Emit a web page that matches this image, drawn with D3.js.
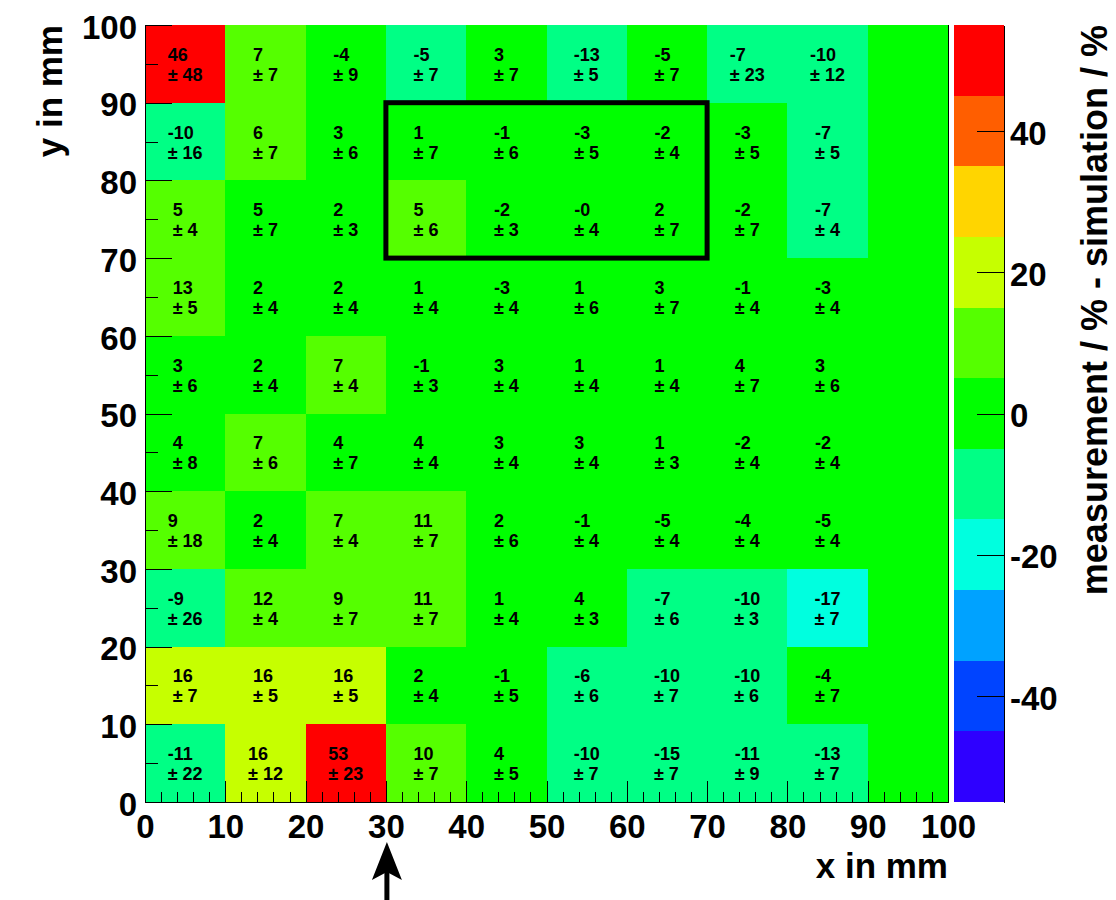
<!DOCTYPE html>
<html>
<head>
<meta charset="utf-8">
<script src="https://cdn.jsdelivr.net/npm/d3@7"></script>
<style>
body { margin: 0; background: #fff; }
text { font-family: "Liberation Sans", Arial, Helvetica, sans-serif; font-weight: bold; }
.axis path, .axis line { stroke: #000; stroke-width: 1px; shape-rendering: crispEdges; }
</style>
</head>
<body>
<svg id="chart" width="1116" height="900"></svg>
<script>
/*global d3*/

// lower bin edges in mm
var xBins = [0, 10, 20, 30, 40, 50, 60, 70, 80, 90];
var yBins = [90, 80, 70, 60, 50, 40, 30, 20, 10, 0];   // rows, top to bottom

// measurement / % - simulation / %, last column is empty
var diff = [
    [46.3, 7, -4, -5.3, 3, -13, -4.7, -7, -10, 0],
    [-10, 6, 3, 1, -1, -3, -2, -3, -7, 0],
    [5.2, 4.8, 2, 5.3, -2, -0.3, 2, -2, -7, 0],
    [13, 2, 2, 1, -3, 1, 3, -1, -3, 0],
    [3, 2, 7, -1, 3, 1, 1, 4, 3, 0],
    [4, 7, 4, 4, 3, 3, 1, -2, -2, 0],
    [9, 2, 7, 11, 2, -1, -4.8, -4, -4.6, 0],
    [-9, 12, 9, 11, 1, 4, -7, -10, -17, 0],
    [16, 16, 16, 2, -1, -6, -10, -10, -4, 0],
    [-11, 16, 53, 10, 4, -10, -14.6, -11, -13, 0]
];

var diffErr = [
    [48, 7, 9, 7, 7, 5, 7, 23, 12, null],
    [16, 7, 6, 7, 6, 5, 4, 5, 5, null],
    [4, 7, 3, 6, 3, 4, 7, 7, 4, null],
    [5, 4, 4, 4, 4, 6, 7, 4, 4, null],
    [6, 4, 4, 3, 4, 4, 4, 7, 6, null],
    [8, 6, 7, 4, 4, 4, 3, 4, 4, null],
    [18, 4, 4, 7, 6, 4, 4, 4, 4, null],
    [26, 4, 7, 7, 4, 3, 6, 3, 7, null],
    [7, 5, 5, 4, 5, 6, 7, 6, 7, null],
    [22, 12, 23, 7, 5, 7, 7, 9, 7, null]
];

// palette from low to high, 11 contours over [-55, 55]
var paletteColors = ["#2e00ff", "#0044ff", "#00a2ff", "#00ffdf", "#00ff85",
                     "#00ff00", "#55ff00", "#c6ff00", "#ffd500", "#ff5e00", "#ff0000"];
var zRange = [-55, 55];
var zTicks = [-40, -20, 0, 20, 40];
var axisTicks = [0, 10, 20, 30, 40, 50, 60, 70, 80, 90, 100];

// highlighted region and arrow position (mm)
var boxX = [30, 70];
var boxY = [70, 90];
var arrowX = 30;

var svg = d3.select("#chart");

var x = d3.scaleLinear().domain([0, 100]).range([145, 948]);
var y = d3.scaleLinear().domain([0, 100]).range([802, 25]);
var z = d3.scaleLinear().domain(zRange).range([802, 25]);
var color = d3.scaleQuantize().domain(zRange).range(paletteColors);
var binW = 10;

// ROOT style integer labels with a plain hyphen ("-0" kept)
function fmt(v) {
    var r = Math.round(v);
    return (v < 0 ? "-" : "") + Math.abs(r);
}

// cells
var cells = [];
yBins.forEach(function (yb, i) {
    xBins.forEach(function (xb, j) {
        cells.push({x: xb, y: yb, v: diff[i][j], e: diffErr[i][j]});
    });
});

svg.append("g").selectAll("rect")
    .data(cells)
    .join("rect")
    .attr("x", function (d) { return x(d.x); })
    .attr("y", function (d) { return y(d.y + binW); })
    .attr("width", function (d) { return x(d.x + binW) - x(d.x); })
    .attr("height", function (d) { return y(d.y) - y(d.y + binW); })
    .attr("fill", function (d) { return color(d.v); })
    .attr("shape-rendering", "crispEdges");

// cell labels: value and error, left aligned block centred in the cell
var labels = svg.append("g").selectAll("g")
    .data(cells.filter(function (d) { return d.e !== null; }))
    .join("g");

labels.append("text")
    .attr("x", 0).attr("y", -3)
    .attr("font-size", 18)
    .text(function (d) { return fmt(d.v); });

labels.append("text")
    .attr("x", 0).attr("y", 17)
    .attr("font-size", 18)
    .text(function (d) { return "\u00b1 " + d.e; });

labels.attr("transform", function (d) {
    var w = 0;
    d3.select(this).selectAll("text").each(function () {
        w = Math.max(w, this.getComputedTextLength());
    });
    var cx = x(d.x + binW / 2), cy = y(d.y + binW / 2);
    return "translate(" + (cx - w / 2) + "," + cy + ")";
});

// frame
svg.append("line")
    .attr("x1", x(100)).attr("x2", x(100))
    .attr("y1", y(0)).attr("y2", y(100))
    .attr("stroke", "#000").attr("shape-rendering", "crispEdges");

// x axis
var xAxis = svg.append("g").attr("class", "axis")
    .attr("transform", "translate(0," + y(0) + ")")
    .call(d3.axisBottom(x).tickValues(axisTicks).tickFormat(fmt)
        .tickSizeInner(-21).tickSizeOuter(0).tickPadding(13));
xAxis.selectAll("text").attr("font-size", 33).attr("fill", "#000");

svg.append("g").attr("class", "axis")
    .attr("transform", "translate(0," + y(0) + ")")
    .call(d3.axisBottom(x)
        .tickValues(d3.range(0, 101, 2).filter(function (t) { return t % 10 !== 0; }))
        .tickSizeInner(-10).tickSizeOuter(0).tickFormat(""))
    .select(".domain").remove();

// y axis
var yAxis = svg.append("g").attr("class", "axis")
    .attr("transform", "translate(" + x(0) + ",0)")
    .call(d3.axisLeft(y).tickValues(axisTicks).tickFormat(fmt)
        .tickSizeInner(-27).tickSizeOuter(0).tickPadding(8));
yAxis.selectAll("text").attr("font-size", 33).attr("fill", "#000").attr("dy", "0.4em");

svg.append("g").attr("class", "axis")
    .attr("transform", "translate(" + x(0) + ",0)")
    .call(d3.axisLeft(y)
        .tickValues(d3.range(5, 100, 10))
        .tickSizeInner(-13).tickSizeOuter(0).tickFormat(""))
    .select(".domain").remove();

// axis titles
svg.append("text")
    .attr("x", x(100)).attr("y", 878)
    .attr("text-anchor", "end")
    .attr("font-size", 35)
    .text("x in mm");

svg.append("text")
    .attr("transform", "translate(62," + y(100) + ") rotate(-90)")
    .attr("text-anchor", "end")
    .attr("font-size", 35)
    .text("y in mm");

// highlighted region
svg.append("rect")
    .attr("x", x(boxX[0])).attr("y", y(boxY[1]))
    .attr("width", x(boxX[1]) - x(boxX[0]))
    .attr("height", y(boxY[0]) - y(boxY[1]))
    .attr("fill", "none").attr("stroke", "#000").attr("stroke-width", 5);

// arrow under the x axis
var ax = x(arrowX) + 1;
svg.append("line")
    .attr("x1", ax).attr("x2", ax)
    .attr("y1", 900).attr("y2", 870)
    .attr("stroke", "#000").attr("stroke-width", 5);
svg.append("path")
    .attr("d", "M" + ax + ",842 L" + (ax + 15) + ",880 L" + ax + ",872 L" + (ax - 15) + ",880 Z")
    .attr("fill", "#000");

// colour bar
var barX0 = 954, barX1 = 1004;
var bands = d3.range(paletteColors.length).map(function (i) {
    var step = (zRange[1] - zRange[0]) / paletteColors.length;
    return {lo: zRange[0] + i * step, hi: zRange[0] + (i + 1) * step, c: paletteColors[i]};
});
svg.append("g").selectAll("rect")
    .data(bands)
    .join("rect")
    .attr("x", barX0)
    .attr("y", function (d) { return z(d.hi); })
    .attr("width", barX1 - barX0)
    .attr("height", function (d) { return z(d.lo) - z(d.hi); })
    .attr("fill", function (d) { return d.c; })
    .attr("shape-rendering", "crispEdges");

var zAxis = svg.append("g").attr("class", "axis")
    .attr("transform", "translate(" + barX1 + ",0)")
    .call(d3.axisRight(z).tickValues(zTicks).tickFormat(fmt)
        .tickSizeInner(-27).tickSizeOuter(0).tickPadding(6));
zAxis.selectAll("text").attr("font-size", 33).attr("fill", "#000").attr("dy", "0.4em");

svg.append("text")
    .attr("transform", "translate(1107," + z(zRange[1]) + ") rotate(-90)")
    .attr("text-anchor", "end")
    .attr("font-size", 36)
    .text("measurement / % - simulation / %");
</script>
</body>
</html>
